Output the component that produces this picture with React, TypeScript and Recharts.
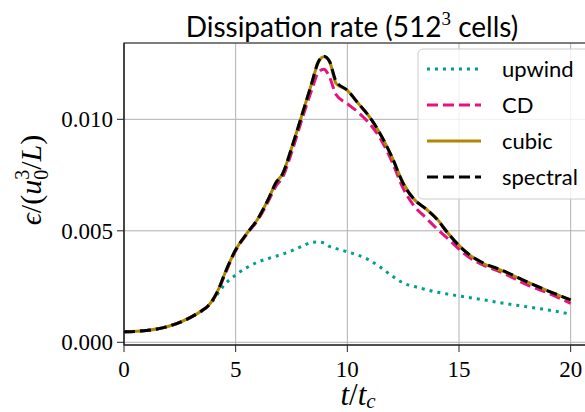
import { CartesianGrid, Line, LineChart, ReferenceArea, XAxis, YAxis } from 'recharts';

// time samples t / t_c
const tValues = [
  0, 1, 2, 3, 3.5, 3.75, 4, 4.25, 4.5, 5, 5.5, 6, 6.5, 6.8, 7.1, 7.5, 8, 8.4, 8.7, 8.95, 9.2,
  9.5, 10, 10.5, 11, 11.5, 12, 12.5, 13, 13.5, 14, 14.5, 15, 15.5, 16, 17, 18, 19, 20,
];

const upwind = [
  0.00047, 0.00053, 0.00072, 0.00113, 0.00143, 0.00162, 0.00188, 0.00225, 0.00258, 0.00302,
  0.00335, 0.0036, 0.00377, 0.00386, 0.00395, 0.0041, 0.00432, 0.00448, 0.0045, 0.00446,
  0.0043, 0.0042, 0.00406, 0.0039, 0.00368, 0.00335, 0.00298, 0.00266, 0.0025, 0.00237,
  0.00225, 0.00216, 0.00208, 0.002, 0.00192, 0.00175, 0.0016, 0.00145, 0.00126,
];

const cd = [
  0.00047, 0.00053, 0.00072, 0.00113, 0.00143, 0.00162, 0.00193, 0.0024, 0.003, 0.0041,
  0.00485, 0.0055, 0.0064, 0.007, 0.0074, 0.0085, 0.0101, 0.0113, 0.0121, 0.01225,
  0.0119, 0.0111, 0.0107, 0.0103, 0.0098, 0.0091, 0.0081, 0.0069, 0.0061, 0.0056,
  0.0051, 0.00465, 0.00418, 0.00378, 0.0035, 0.0031, 0.0026, 0.0022, 0.00175,
];

const cubic = [
  0.00047, 0.00053, 0.00072, 0.00113, 0.00143, 0.00162, 0.00194, 0.00242, 0.00305, 0.00415,
  0.00488, 0.00555, 0.0065, 0.00715, 0.00755, 0.0087, 0.0103, 0.0116, 0.01255, 0.0128,
  0.0126, 0.0116, 0.0113, 0.0107, 0.0101, 0.0093, 0.0083, 0.00715, 0.0064, 0.006,
  0.00555, 0.0049, 0.00435, 0.0039, 0.00358, 0.00318, 0.00273, 0.0023, 0.0019,
];

const spectral = [
  0.00047, 0.00053, 0.00072, 0.00113, 0.00143, 0.00162, 0.00194, 0.00242, 0.00305, 0.00415,
  0.00488, 0.00555, 0.0065, 0.00715, 0.00755, 0.0087, 0.0103, 0.0116, 0.01258, 0.01283,
  0.0126, 0.0117, 0.0113, 0.0107, 0.0101, 0.0093, 0.0083, 0.00712, 0.0064, 0.006,
  0.00553, 0.0049, 0.00433, 0.0039, 0.0036, 0.0032, 0.00273, 0.0023, 0.0019,
];

const xTicks = [0, 5, 10, 15, 20];
const yTicks = [0, 0.005, 0.01];

const data = tValues.map((t, i) => ({
  t,
  upwind: upwind[i],
  cd: cd[i],
  cubic: cubic[i],
  spectral: spectral[i],
}));

const series = [
  { key: 'upwind', name: 'upwind', color: '#00a08a', dash: '3 5' },
  { key: 'cd', name: 'CD', color: '#e6127f', dash: '11 5' },
  { key: 'cubic', name: 'cubic', color: '#b08800', dash: undefined },
  { key: 'spectral', name: 'spectral', color: '#000000', dash: '11 5' },
];

const Y_MIN = -0.000121;
const Y_MAX = 0.013422;
const serif = "'Liberation Serif', 'DejaVu Serif', serif";
const sans = "Lato, 'Open Sans', sans-serif";

export default function App() {
  return (
    <div
      style={{
        position: 'absolute',
        left: 0,
        top: 0,
        width: 585,
        height: 412,
        overflow: 'hidden',
        background: '#fff',
      }}
    >
      <LineChart width={600} height={412} data={data} margin={{ top: 43, right: 7, bottom: 0, left: 0 }}>
        <CartesianGrid stroke="#b0b0b0" strokeWidth={1} />
        <XAxis
          dataKey="t"
          type="number"
          domain={[0, 21]}
          ticks={xTicks}
          height={67}
          tickSize={7}
          tickMargin={9}
          stroke="#222"
          tick={{ fontSize: 23, fill: '#000', fontFamily: serif }}
        />
        <YAxis
          type="number"
          domain={[Y_MIN, Y_MAX]}
          ticks={yTicks}
          width={124}
          tickSize={7}
          tickMargin={4}
          stroke="#222"
          tickFormatter={(v: number) => v.toFixed(3)}
          tick={{ fontSize: 23, fill: '#000', fontFamily: serif }}
        />
        {series.map((s) => (
          <Line
            key={s.key}
            dataKey={s.key}
            name={s.name}
            type="monotone"
            stroke={s.color}
            strokeWidth={3}
            strokeDasharray={s.dash}
            dot={false}
            activeDot={false}
            isAnimationActive={false}
          />
        ))}
        <ReferenceArea x1={0} x2={21} y1={Y_MIN} y2={Y_MAX} fill="none" stroke="#222" strokeWidth={1.2} />
      </LineChart>

      <svg
        width={585}
        height={412}
        style={{ position: 'absolute', left: 0, top: 0, pointerEvents: 'none' }}
      >
        {/* title */}
        <text x={352} y={37} textAnchor="middle" fontSize={28} fontFamily={sans} fill="#000">
          Dissipation rate (512
          <tspan fontFamily={serif} fontSize={19} dy={-12}>3</tspan>
          <tspan dy={12}> cells)</tspan>
        </text>

        {/* x label */}
        <text x={358} y={405} textAnchor="middle" fontSize={31} fontFamily={serif} fill="#000">
          <tspan fontStyle="italic">t</tspan>
          <tspan>/</tspan>
          <tspan fontStyle="italic">t</tspan>
          <tspan fontStyle="italic" fontSize={21} dy={3}>c</tspan>
        </text>

        {/* y label */}
        <text
          transform="translate(41,180) rotate(-90)"
          textAnchor="middle"
          fontSize={30}
          fontFamily={serif}
          fill="#000"
        >
          <tspan fontStyle="italic">ϵ</tspan>
          <tspan>/(</tspan>
          <tspan fontStyle="italic">u</tspan>
          <tspan fontSize={20} dy={-12}>3</tspan>
          <tspan fontSize={20} dx={-10} dy={19}>0</tspan>
          <tspan dy={-7}>/</tspan>
          <tspan fontStyle="italic">L</tspan>
          <tspan>)</tspan>
        </text>

        {/* legend */}
        <rect
          x={418}
          y={49}
          width={185}
          height={150}
          rx={5}
          fill="rgba(255,255,255,0.8)"
          stroke="#cccccc"
          strokeWidth={1}
        />
        {series.map((s, i) => {
          const cy = 69 + i * 36;
          return (
            <g key={s.key}>
              <line
                x1={427}
                x2={481}
                y1={cy}
                y2={cy}
                stroke={s.color}
                strokeWidth={3}
                strokeDasharray={s.dash}
              />
              <text x={502} y={cy + 8} fontSize={22} fontFamily={sans} fill="#000">
                {s.name}
              </text>
            </g>
          );
        })}
      </svg>
    </div>
  );
}
